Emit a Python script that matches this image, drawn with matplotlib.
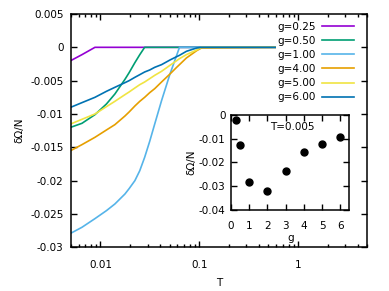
import matplotlib
matplotlib.use("Agg")
import matplotlib.pyplot as plt
from matplotlib.ticker import FixedLocator, NullFormatter, MultipleLocator

# temperature grid shared by all curves
T = [0.005, 0.0065, 0.0088, 0.0115, 0.014, 0.0177, 0.0195, 0.0223, 0.025, 0.028,
     0.0315, 0.0354, 0.0415, 0.0505, 0.059, 0.063, 0.074, 0.094, 0.105, 0.6]

# delta Omega / N for each coupling g
g025 = [-0.0020, -0.0011, 0, 0, 0, 0, 0, 0, 0, 0,
        0, 0, 0, 0, 0, 0, 0, 0, 0, 0]
g050 = [-0.0120, -0.0114, -0.0101, -0.0085, -0.0070, -0.0048, -0.0038, -0.0023, -0.0011, 0,
        0, 0, 0, 0, 0, 0, 0, 0, 0, 0]
g100 = [-0.0279, -0.0270, -0.0257, -0.0245, -0.0235, -0.0220, -0.0212, -0.0200, -0.0185, -0.0165,
        -0.0141, -0.0115, -0.0080, -0.0040, -0.0012, 0, 0, 0, 0, 0]
g400 = [-0.0155, -0.0146, -0.0135, -0.0124, -0.0116, -0.0103, -0.0097, -0.0088, -0.0081, -0.0075,
        -0.0068, -0.0062, -0.0052, -0.0040, -0.0030, -0.0026, -0.0016, -0.0005, -0.0001, 0]
g500 = [-0.0115, -0.0108, -0.0100, -0.0089, -0.0081, -0.0071, -0.0067, -0.0061, -0.0056, -0.0052,
        -0.0047, -0.0042, -0.0036, -0.0027, -0.0020, -0.0017, -0.0011, -0.0004, 0, 0]
g600 = [-0.0090, -0.0083, -0.0075, -0.0066, -0.0060, -0.0053, -0.0050, -0.0045, -0.0041, -0.0037,
        -0.0034, -0.0030, -0.0026, -0.0019, -0.0014, -0.0012, -0.0006, -0.0001, 0, 0]

series = [g025, g050, g100, g400, g500, g600]
labels = ["g=0.25", "g=0.50", "g=1.00", "g=4.00", "g=5.00", "g=6.00"]
colors = ["#9400d3", "#009e73", "#56b4e9", "#e69f00", "#f0e442", "#0072b2"]

# inset: value at T=0.005 versus g
g_inset = [0.25, 0.5, 1, 2, 3, 4, 5, 6]
w_inset = [-0.0021, -0.0125, -0.0283, -0.0318, -0.0237, -0.0157, -0.0122, -0.0093]

plt.rcParams['font.family'] = ['DejaVu Sans']
plt.rcParams['font.size'] = 7.5
plt.rcParams['axes.unicode_minus'] = False

fig = plt.figure(figsize=(3.89, 2.91), dpi=100)
ax = fig.add_axes([0.1817, 0.1502, 0.7625, 0.8017])

for vals, lab, col in zip(series, labels, colors):
    ax.plot(T, vals, color=col, lw=1.2, label=lab)

ax.set_xscale('log')
ax.set_xlim(0.005, 5)
ax.set_ylim(-0.03, 0.005)
ax.xaxis.set_major_locator(FixedLocator([0.01, 0.1, 1]))
ax.set_xticklabels(["0.01", "0.1", "1"])
ax.xaxis.set_minor_locator(FixedLocator(
    [k * 10.0 ** e for e in (-3, -2, -1, 0) for k in range(2, 10)]))
ax.xaxis.set_minor_formatter(NullFormatter())
yt = [-0.03, -0.025, -0.02, -0.015, -0.01, -0.005, 0, 0.005]
ax.set_yticks(yt)
ax.set_yticklabels(["-0.03", "-0.025", "-0.02", "-0.015", "-0.01", "-0.005", "0", "0.005"])
ax.tick_params(which='major', direction='in', length=4, width=1, top=True, right=True, pad=5)
ax.tick_params(axis='x', which='major', pad=9)
ax.tick_params(which='minor', direction='in', length=2, width=1, top=True, right=True)
for s in ax.spines.values():
    s.set_linewidth(1.1)
ax.set_xlabel("T", labelpad=6)
ax.set_ylabel("δΩ/N", labelpad=4)

leg = ax.legend(loc='upper right', bbox_to_anchor=(0.9585, 0.972), markerfirst=False,
                frameon=True, fancybox=False, framealpha=1, edgecolor='none',
                borderpad=0.1, borderaxespad=0, handlelength=3.1, handletextpad=0.55,
                labelspacing=0.4)

# inset axes
axi = fig.add_axes([0.594, 0.278, 0.304, 0.3275])
axi.plot(g_inset, w_inset, 'o', color='black', ms=5)
axi.set_xlim(0, 6.5)
axi.set_ylim(-0.04, 0)
axi.xaxis.set_major_locator(MultipleLocator(1))
axi.set_yticks([-0.04, -0.03, -0.02, -0.01, 0])
axi.set_yticklabels(["-0.04", "-0.03", "-0.02", "-0.01", "0"])
axi.tick_params(direction='in', length=4, width=1, top=True, right=True, pad=4)
axi.tick_params(axis='x', pad=8)
for s in axi.spines.values():
    s.set_linewidth(1.1)
axi.set_xlabel("g", labelpad=1)
axi.set_ylabel("δΩ/N", labelpad=2)
axi.text(0.52, 0.868, "T=0.005", transform=axi.transAxes, ha='center', va='center')

fig.savefig("out.png", dpi=100)
